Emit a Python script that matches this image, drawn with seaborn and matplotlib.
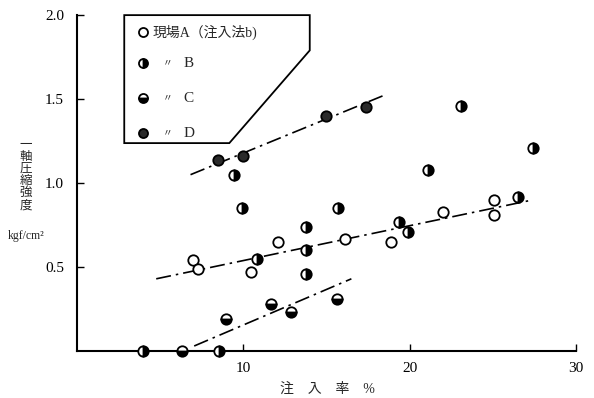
import numpy as np
import pandas as pd
import matplotlib
matplotlib.use('Agg')
import matplotlib.pyplot as plt
from matplotlib.patches import Polygon
import seaborn as sns

# 現場A
a_x = [7.0, 7.3, 10.5, 12.1, 16.1, 18.85, 22.0, 25.05, 25.05]
a_y = [0.54, 0.49, 0.47, 0.65, 0.67, 0.65, 0.83, 0.90, 0.81]
# B
b_x = [4.0, 8.57, 9.47, 9.95, 10.85, 13.8, 13.8, 13.8, 15.7, 19.35, 19.9, 21.1, 23.1, 26.5, 27.4]
b_y = [0.0, 0.0, 1.05, 0.85, 0.55, 0.74, 0.60, 0.46, 0.85, 0.77, 0.71, 1.08, 1.46, 0.92, 1.21]
# C
c_x = [6.35, 9.0, 11.7, 12.85, 15.65]
c_y = [0.0, 0.19, 0.28, 0.23, 0.31]
# D
d_x = [8.5, 10.0, 15.0, 17.4]
d_y = [1.14, 1.16, 1.40, 1.45]

# fitted lines (end points)
fit_d_x = [6.84, 18.4]
fit_d_y = [1.05, 1.52]
fit_ab_x = [4.78, 27.4]
fit_ab_y = [0.43, 0.90]
fit_c_x = [7.06, 16.5]
fit_c_y = [0.03, 0.43]

x_ticks = [10, 20, 30]
y_ticks = [0.5, 1.0, 1.5, 2.0]
legend_labels = ['現場A（注入法b)', 'B', 'C', 'D']

sns.set_style('white')
plt.rcParams['font.family'] = ['Liberation Serif', 'Noto Sans CJK JP', 'DejaVu Sans']

fig = plt.figure(figsize=(5.94, 3.98), dpi=100)
ax = fig.add_axes([0.129, 0.118, 0.841, 0.844])

styles = {
    'A': dict(fillstyle='full', markerfacecolor='white'),
    'B': dict(fillstyle='right', markerfacecolor='black', markerfacecoloralt='white'),
    'C': dict(fillstyle='bottom', markerfacecolor='black', markerfacecoloralt='white'),
    'D': dict(fillstyle='full', markerfacecolor='#2a2a2a'),
}
groups = {'A': (a_x, a_y), 'B': (b_x, b_y), 'C': (c_x, c_y), 'D': (d_x, d_y)}

dashdot = (0, (9, 3, 1.5, 3))
for fx, fy in [(fit_d_x, fit_d_y), (fit_ab_x, fit_ab_y), (fit_c_x, fit_c_y)]:
    sns.lineplot(x=fx, y=fy, ax=ax, color='black', lw=1.2, linestyle=dashdot,
                 estimator=None, sort=False)

for key, (gx, gy) in groups.items():
    df = pd.DataFrame({'x': gx, 'y': gy})
    sns.lineplot(data=df, x='x', y='y', ax=ax, estimator=None, sort=False,
                 linestyle='', marker='o', markersize=7.5, color='black',
                 markeredgecolor='black', markeredgewidth=1.3, clip_on=False,
                 zorder=5, **styles[key])

ax.set_xlim(0, 30)
ax.set_ylim(0, 2.0)
ax.set_xticks(x_ticks)
ax.set_yticks(y_ticks)
ax.set_yticklabels([f'{v:.1f}' for v in y_ticks])
ax.tick_params(direction='in', length=5, width=1, labelsize=11, colors='black',
               bottom=True, left=True)
ax.tick_params(axis='y', pad=9)
ax.tick_params(axis='x', pad=8)
for s in ['top', 'right']:
    ax.spines[s].set_visible(False)
for s in ['left', 'bottom']:
    ax.spines[s].set_color('black')
    ax.spines[s].set_linewidth(1.5)
ax.set_xlabel('')
ax.set_ylabel('')

# legend box with cut corner
poly = Polygon([(2.86, 2.0), (14.0, 2.0), (14.0, 1.79), (9.17, 1.238), (2.86, 1.238)],
               closed=True, fill=False, edgecolor='black', lw=1.3, clip_on=False)
ax.add_patch(poly)
rows = [1.90, 1.714, 1.506, 1.298]
for key, yy, lab in zip(groups.keys(), rows, legend_labels):
    ax.plot([4.0], [yy], linestyle='', marker='o', markersize=6.5, color='black',
            markeredgecolor='black', markeredgewidth=1.3, clip_on=False, **styles[key])
    if key == 'A':
        ax.text(4.55, yy, lab, fontsize=10, va='center', ha='left')
    else:
        ax.text(5.2, yy, '〃', fontsize=7, va='center', ha='left')
        ax.text(6.4, yy, lab, fontsize=11, va='center', ha='left')

# axis titles
fig.text(0.552, 0.005, '注　入　率　%', fontsize=10, ha='center', va='bottom')
fig.text(0.044, 0.56, '一\n軸\n圧\n縮\n強\n度', fontsize=9, ha='center', va='center',
         linespacing=1.0)
fig.text(0.044, 0.407, 'kgf/cm²', fontsize=8.5, ha='center', va='center')

fig.savefig('out.png', dpi=100)
